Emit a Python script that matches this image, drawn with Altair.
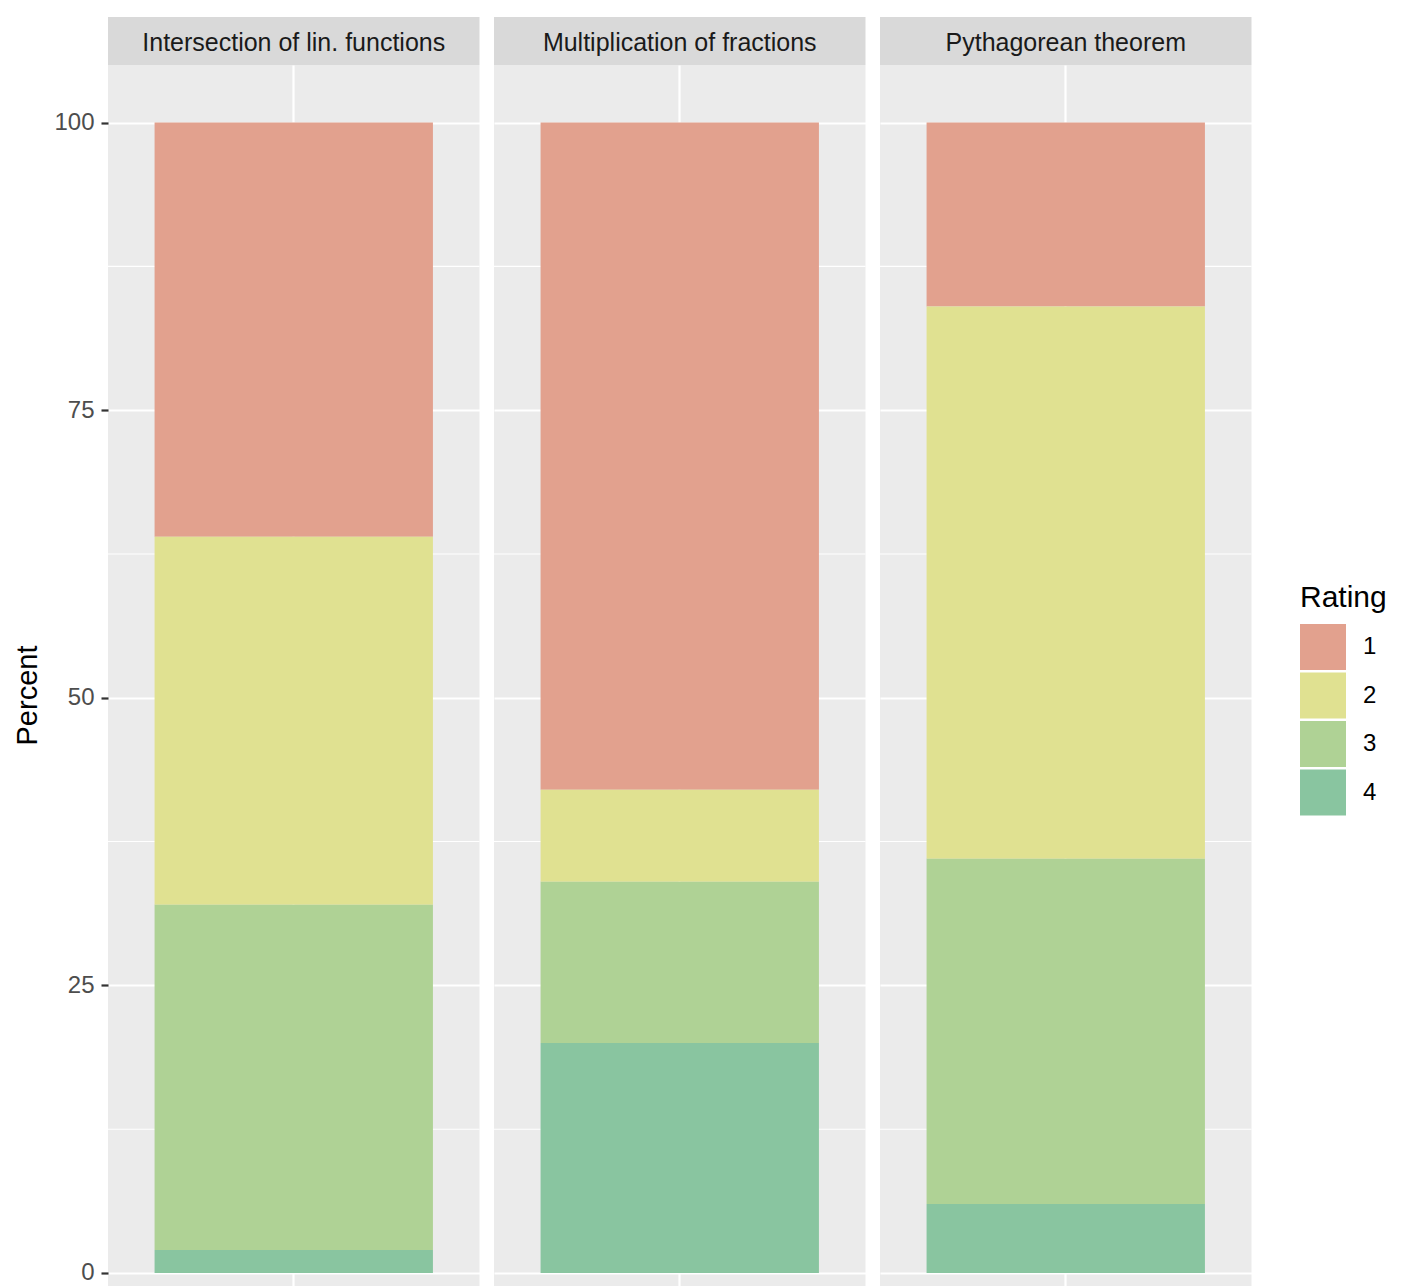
import altair as alt
import pandas as pd

tasks = ["Intersection of lin. functions", "Multiplication of fractions", "Pythagorean theorem"]
ratings = ["1", "2", "3", "4"]
pct_intersection = [36, 32, 30, 2]
pct_multiplication = [58, 8, 14, 20]
pct_pythagorean = [16, 48, 30, 6]
rating_colors = ["#E2A18E", "#E0E191", "#AFD295", "#89C5A0"]
major_breaks = [0, 25, 50, 75, 100]
minor_breaks = [12.5, 37.5, 62.5, 87.5]

rows = []
for task, vals in zip(tasks, [pct_intersection, pct_multiplication, pct_pythagorean]):
    for r, v in zip(ratings, vals):
        rows.append({"Task": task, "Rating": r, "Percent": v})
df = pd.DataFrame(rows)
minor_df = pd.DataFrame({"v": minor_breaks})

FONT = "Liberation Sans"
PW = 371.5
PH = 1221
YDOM = [-1.13, 105]


def make_panel(task, first):
    if first:
        yaxis = alt.Axis(values=major_breaks, format="d", title="Percent",
                         grid=True, gridColor="white", gridWidth=2.2,
                         domain=False, ticks=True, tickSize=7, tickWidth=2.2,
                         tickColor="#333333", labelPadding=7, labelFont=FONT,
                         labelFontSize=24, labelColor="#4D4D4D",
                         titleFont=FONT, titleFontSize=29, titleColor="black",
                         titleFontWeight="normal", titlePadding=11, titleY=630)
    else:
        yaxis = alt.Axis(values=major_breaks, title=None, labels=False, ticks=False,
                         domain=False, grid=True, gridColor="white", gridWidth=2.2)
    yscale = alt.Scale(domain=YDOM, nice=False, zero=False)
    minor = alt.Chart(minor_df).mark_rule(color="white", strokeWidth=1.1).encode(
        y=alt.Y("v:Q", scale=yscale, axis=yaxis)
    )
    bars = alt.Chart(df).transform_filter(alt.datum.Task == task).mark_bar().encode(
        x=alt.X("Task:N",
                scale=alt.Scale(paddingInner=0, paddingOuter=0.1673),
                axis=alt.Axis(labels=False, ticks=False, domain=False, title=None,
                              grid=True, gridColor="white", gridWidth=2.2,
                              bandPosition=0.5)),
        y=alt.Y("Percent:Q", stack="zero", scale=yscale, axis=yaxis),
        color=alt.Color("Rating:N",
                        scale=alt.Scale(domain=ratings, range=rating_colors),
                        legend=alt.Legend(title="Rating", orient="none",
                                          legendX=1192, legendY=566,
                                          symbolType="square", symbolSize=2116,
                                          symbolStrokeWidth=0, rowPadding=2.5,
                                          labelOffset=17, padding=0,
                                          titleFont=FONT, titleFontSize=30,
                                          titleFontWeight="normal", titleColor="black",
                                          titlePadding=11, labelFont=FONT,
                                          labelFontSize=24, labelColor="black")),
        order=alt.Order("Rating:N", sort="descending"),
    )
    panel = alt.layer(minor, bars).properties(
        width=PW, height=PH,
        view=alt.ViewBackground(fill="#EBEBEB", stroke=None),
    )
    strip = alt.Chart(pd.DataFrame({"Task": [task]})).mark_text(
        font=FONT, fontSize=25, color="#1A1A1A", baseline="middle", align="center", dy=2
    ).encode(text="Task:N").properties(
        width=PW, height=48,
        view=alt.ViewBackground(fill="#D9D9D9", stroke=None),
    )
    return alt.vconcat(strip, panel, spacing=0)


cols = [make_panel(t, i == 0) for i, t in enumerate(tasks)]
chart = alt.hconcat(*cols, spacing=12).resolve_scale(x="independent").properties(
    padding={"left": 5, "top": 9, "right": 0, "bottom": 0}
).configure_view(stroke=None)

chart.save("out.html", embed_options={"renderer": "svg", "actions": False})
